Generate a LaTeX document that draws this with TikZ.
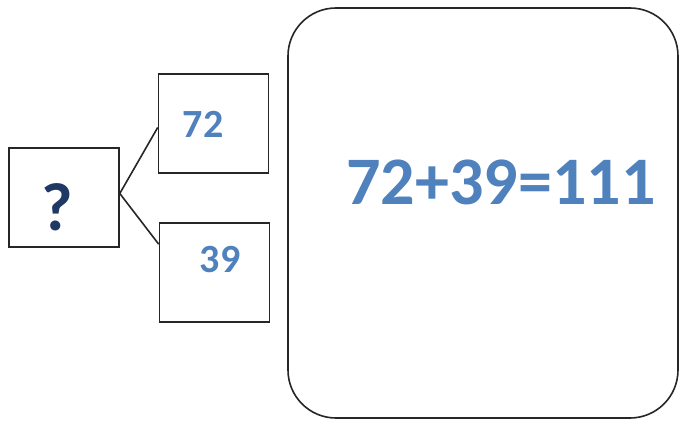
\documentclass[tikz,border=0pt]{standalone}
\usepackage{fontspec}
\setmainfont{Carlito}
\definecolor{numblue}{HTML}{4F81BD}
\definecolor{qnavy}{HTML}{1F3864}
\tikzset{
  sqbox/.style={draw=black!85, line width=1.6pt, inner sep=0pt, minimum width=110pt, minimum height=99pt},
  bigbox/.style={draw=black!85, line width=1.6pt, rounded corners=48pt, inner sep=0pt, minimum width=390pt, minimum height=410pt},
  conn/.style={draw=black!85, line width=1.6pt},
  numtxt/.style={text=numblue, inner sep=0pt, font=\bfseries\fontsize{40}{40}\selectfont}
}
\begin{document}
\begin{tikzpicture}[x=1pt,y=-1pt]
\useasboundingbox (0,0) rectangle (681,425);
\node[sqbox] (q) at (64,197.5) {};
\node[text=qnavy, inner sep=0pt, font=\bfseries\fontsize{68}{68}\selectfont] (qt) at (57.5,207) {?};
\node[sqbox] (a) at (213.5,123.5) {};
\node[numtxt] (at) at (203,124) {72};
\node[sqbox] (b) at (214.5,272.5) {};
\node[numtxt] (bt) at (220,260) {39};
\node[bigbox] (big) at (483,213) {};
\node[text=numblue, inner sep=0pt, font=\bfseries\fontsize{68}{68}\selectfont] (eq) at (501,182.5) {72+39=111};
\draw[conn] ([yshift=4pt]q.east) -- ([yshift=-4pt]a.west);
\draw[conn] ([yshift=4pt]q.east) -- ([yshift=-22pt]b.north west);
\end{tikzpicture}
\end{document}
